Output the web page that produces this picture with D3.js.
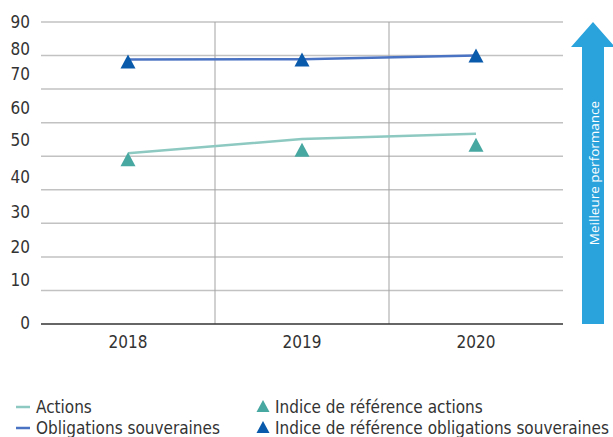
<!DOCTYPE html>
<html>
<head>
<meta charset="utf-8">
<script src="https://cdn.jsdelivr.net/npm/d3@7"></script>
<style>
  body { margin: 0; background: #fff; }
  svg { display: block; font-family: "Liberation Sans Narrow", "DejaVu Sans Condensed", "Liberation Sans", sans-serif; }
  .tick-lbl { font-size: 17px; fill: #333; }
  .legend text { font-size: 17px; fill: #333; }
</style>
</head>
<body>
<div id="chart"></div>
<script>
var years = ["2018", "2019", "2020"]
var actions = [50.9, 55.1, 56.7]
var obligations = [78.8, 78.9, 80.0]
var refActions = [49.1, 51.9, 53.4]
var refObligations = [78.2, 78.8, 80.0]
var yTicks = [0, 10, 20, 30, 40, 50, 60, 70, 80, 90]

var width = 613, height = 437
var margin = {top: 22, left: 41, right: 50, bottom: 113}

// the labels in the original sit a bit above their gridlines
var labelNudge = {0: -1, 10: -10, 20: -10, 30: -11, 40: -13, 50: -16, 60: -15, 70: -15, 80: -7, 90: 0}

var svg = d3.select("#chart").append("svg")
    .attr("width", width)
    .attr("height", height)

var x = d3.scaleBand()
    .domain(years)
    .range([margin.left, width - margin.right])

var y = d3.scaleLinear()
    .domain([0, 90])
    .range([height - margin.bottom, margin.top])

// horizontal gridlines
svg.append("g").selectAll("line")
    .data(yTicks.filter(d => d > 0))
    .enter().append("line")
    .attr("x1", margin.left)
    .attr("x2", width - margin.right)
    .attr("y1", d => y(d))
    .attr("y2", d => y(d))
    .attr("stroke", "#c2c2c2")
    .attr("stroke-width", 1.5)

// vertical separators between years
svg.append("g").selectAll("line")
    .data(years.slice(1))
    .enter().append("line")
    .attr("x1", d => x(d))
    .attr("x2", d => x(d))
    .attr("y1", y(90))
    .attr("y2", y(0))
    .attr("stroke", "#a3a3a3")
    .attr("stroke-width", 1)

// baseline
svg.append("line")
    .attr("x1", margin.left)
    .attr("x2", width - margin.right)
    .attr("y1", y(0))
    .attr("y2", y(0))
    .attr("stroke", "#333")
    .attr("stroke-width", 1.5)

// y labels
svg.append("g").selectAll("text")
    .data(yTicks)
    .enter().append("text")
    .attr("class", "tick-lbl")
    .attr("x", 30)
    .attr("y", d => y(d) + labelNudge[d])
    .attr("dy", "0.35em")
    .attr("text-anchor", "end")
    .text(d => d)

// x labels
svg.append("g").selectAll("text")
    .data(years)
    .enter().append("text")
    .attr("class", "tick-lbl")
    .attr("x", d => x(d) + x.bandwidth() / 2)
    .attr("y", y(0) + 18)
    .attr("dy", "0.35em")
    .attr("text-anchor", "middle")
    .text(d => d)

var cx = d => x(d) + x.bandwidth() / 2

var line = d3.line()
    .x((d, i) => cx(years[i]))
    .y(d => y(d))

svg.append("path")
    .datum(actions)
    .attr("d", line)
    .attr("fill", "none")
    .attr("stroke", "#8dc9c1")
    .attr("stroke-width", 2.5)

svg.append("path")
    .datum(obligations)
    .attr("d", line)
    .attr("fill", "none")
    .attr("stroke", "#4b73c3")
    .attr("stroke-width", 2.5)

function tri(w, h) {
    return "M0," + (-h / 2) + "L" + (w / 2) + "," + (h / 2) + "L" + (-w / 2) + "," + (h / 2) + "Z"
}

svg.append("g").selectAll("path")
    .data(refActions)
    .enter().append("path")
    .attr("d", tri(15, 14))
    .attr("transform", (d, i) => "translate(" + cx(years[i]) + "," + y(d) + ")")
    .attr("fill", "#47a7a1")

svg.append("g").selectAll("path")
    .data(refObligations)
    .enter().append("path")
    .attr("d", tri(15, 14))
    .attr("transform", (d, i) => "translate(" + cx(years[i]) + "," + y(d) + ")")
    .attr("fill", "#0a5aab")

// arrow "Meilleure performance"
var ax = 593
svg.append("path")
    .attr("d", "M" + ax + "," + y(90) +
        "L" + (ax + 22) + "," + 47 +
        "L" + (ax + 11) + "," + 47 +
        "L" + (ax + 11) + "," + y(0) +
        "L" + (ax - 11) + "," + y(0) +
        "L" + (ax - 11) + "," + 47 +
        "L" + (ax - 22) + "," + 47 + "Z")
    .attr("fill", "#2aa3dd")

svg.append("text")
    .attr("transform", "translate(" + (ax + 1) + "," + 173 + ") rotate(-90)")
    .attr("text-anchor", "middle")
    .attr("dy", "0.35em")
    .attr("fill", "#fff")
    .style("font-family", "'Open Sans', 'Noto Sans', sans-serif")
    .style("font-size", "13.5px")
    .text("Meilleure performance")

// legend
var legend = svg.append("g").attr("class", "legend")
var lineItems = [["Actions", "#8dc9c1"], ["Obligations souveraines", "#4b73c3"]]
var triItems = [["Indice de référence actions", "#47a7a1"], ["Indice de référence obligations souveraines", "#0a5aab"]]

lineItems.forEach((it, i) => {
    var ly = 407 + i * 21
    legend.append("line")
        .attr("x1", 16).attr("x2", 30)
        .attr("y1", ly).attr("y2", ly)
        .attr("stroke", it[1]).attr("stroke-width", 2.5)
    legend.append("text")
        .attr("x", 36).attr("y", ly).attr("dy", "0.35em")
        .text(it[0])
})

triItems.forEach((it, i) => {
    var ly = 407 + i * 21
    legend.append("path")
        .attr("d", tri(13, 12))
        .attr("transform", "translate(" + 263 + "," + (ly - 1) + ")")
        .attr("fill", it[1])
    legend.append("text")
        .attr("x", 275).attr("y", ly).attr("dy", "0.35em")
        .text(it[0])
})
</script>
</body>
</html>
